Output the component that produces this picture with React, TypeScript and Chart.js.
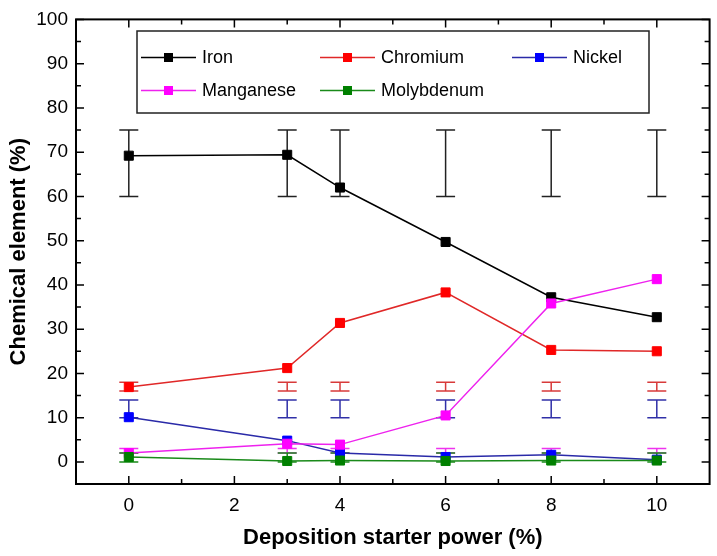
import React, { useEffect, useRef } from 'react';
import { Chart, registerables } from 'chart.js';

Chart.register(...registerables);

// ---- data ----
const xValues = [0, 3, 4, 6, 8, 10];
const iron = [69.2, 69.4, 62.0, 49.7, 37.2, 32.7];
const chromium = [16.9, 21.2, 31.4, 38.3, 25.3, 25.0];
const nickel = [10.1, 4.8, 2.0, 1.1, 1.6, 0.5];
const manganese = [2.0, 4.1, 3.9, 10.5, 35.8, 41.3];
const molybdenum = [1.1, 0.2, 0.3, 0.2, 0.3, 0.3];

const ironErrLow = [60, 60, 60, 60, 60, 60];
const ironErrHigh = [75, 75, 75, 75, 75, 75];
const chromiumErrLow = [16, 16, 16, 16, 16, 16];
const chromiumErrHigh = [18, 18, 18, 18, 18, 18];
const nickelErrLow = [10, 10, 10, 10, 10, 10];
const nickelErrHigh = [14, 14, 14, 14, 14, 14];
const manganeseErrLow = [2, 2, 2, 2, 2, 2];
const manganeseErrHigh = [3, 3, 3, 3, 3, 3];
const molybdenumErrLow = [0, 0, 0, 0, 0, 0];
const molybdenumErrHigh = [2, 2, 2, 2, 2, 2];

const seriesNames = ['Iron', 'Chromium', 'Nickel', 'Manganese', 'Molybdenum'];
const xTickValues = [0, 2, 4, 6, 8, 10];
const xMinorTicks = [1, 3, 5, 7, 9];
const yTickValues = [0, 10, 20, 30, 40, 50, 60, 70, 80, 90, 100];
const yMinorTicks = [5, 15, 25, 35, 45, 55, 65, 75, 85, 95];

const FONT = '"Liberation Sans", Arial, sans-serif';

const errorBarPlugin = {
  id: 'errorBars',
  beforeDatasetsDraw(chart: any) {
    const ctx = chart.ctx;
    const xs = chart.scales.x;
    const ys = chart.scales.y;
    chart.data.datasets.forEach((ds: any) => {
      ctx.save();
      ctx.strokeStyle = ds.errColor;
      ctx.lineWidth = 1.5;
      xValues.forEach((xv, j) => {
        const px = xs.getPixelForValue(xv);
        const lo = ys.getPixelForValue(ds.errLow[j]);
        const hi = ys.getPixelForValue(ds.errHigh[j]);
        const cap = 9.5;
        ctx.beginPath();
        ctx.moveTo(px, lo);
        ctx.lineTo(px, hi);
        ctx.moveTo(px - cap, lo);
        ctx.lineTo(px + cap, lo);
        ctx.moveTo(px - cap, hi);
        ctx.lineTo(px + cap, hi);
        ctx.stroke();
      });
      ctx.restore();
    });
  },
};

const framePlugin = {
  id: 'frame',
  afterDraw(chart: any) {
    const ctx = chart.ctx;
    const { left, right, top, bottom } = chart.chartArea;
    const xs = chart.scales.x;
    const ys = chart.scales.y;
    ctx.save();
    ctx.strokeStyle = '#000';
    ctx.lineWidth = 2;
    ctx.strokeRect(left, top, right - left, bottom - top);
    ctx.lineWidth = 1.5;
    const major = 8;
    const minor = 5;
    ctx.beginPath();
    xTickValues.forEach((v) => {
      const p = xs.getPixelForValue(v);
      ctx.moveTo(p, bottom); ctx.lineTo(p, bottom - major);
      ctx.moveTo(p, top); ctx.lineTo(p, top + major);
    });
    xMinorTicks.forEach((v) => {
      const p = xs.getPixelForValue(v);
      ctx.moveTo(p, bottom); ctx.lineTo(p, bottom - minor);
      ctx.moveTo(p, top); ctx.lineTo(p, top + minor);
    });
    yTickValues.forEach((v) => {
      const p = ys.getPixelForValue(v);
      ctx.moveTo(left, p); ctx.lineTo(left + major, p);
      ctx.moveTo(right, p); ctx.lineTo(right - major, p);
    });
    yMinorTicks.forEach((v) => {
      const p = ys.getPixelForValue(v);
      ctx.moveTo(left, p); ctx.lineTo(left + minor, p);
      ctx.moveTo(right, p); ctx.lineTo(right - minor, p);
    });
    ctx.stroke();
    ctx.restore();
  },
};

const legendPlugin = {
  id: 'boxLegend',
  afterDraw(chart: any) {
    const ctx = chart.ctx;
    ctx.save();
    ctx.strokeStyle = '#222';
    ctx.lineWidth = 1.5;
    ctx.strokeRect(137, 31, 512, 82);
    const colX = [141, 320, 512];
    const rowY = [57.5, 90.5];
    ctx.font = '18px ' + FONT;
    ctx.textBaseline = 'middle';
    ctx.textAlign = 'left';
    chart.data.datasets.forEach((ds: any, i: number) => {
      const cx = colX[i % 3];
      const cy = rowY[Math.floor(i / 3)];
      ctx.strokeStyle = ds.borderColor;
      ctx.lineWidth = 1.5;
      ctx.beginPath();
      ctx.moveTo(cx, cy);
      ctx.lineTo(cx + 55, cy);
      ctx.stroke();
      ctx.fillStyle = ds.pointBackgroundColor;
      ctx.fillRect(cx + 27.5 - 4.5, cy - 4.5, 9, 9);
      ctx.fillStyle = '#000';
      ctx.fillText(ds.label, cx + 61, cy + 1);
    });
    ctx.restore();
  },
};

function makeDs(label: string, values: number[], line: string, marker: string, errColor: string, errLow: number[], errHigh: number[], order: number) {
  return {
    label,
    data: xValues.map((x, i) => ({ x, y: values[i] })),
    borderColor: line,
    backgroundColor: marker,
    pointBackgroundColor: marker,
    pointBorderColor: marker,
    pointBorderWidth: 1,
    pointStyle: 'rect',
    pointRadius: 6.4,
    borderWidth: 1.5,
    tension: 0,
    order,
    errColor,
    errLow,
    errHigh,
  };
}

export default function App() {
  const ref = useRef<HTMLCanvasElement | null>(null);
  useEffect(() => {
    if (!ref.current) return;
    const chart = new Chart(ref.current, {
      type: 'line',
      data: {
        datasets: [
          makeDs(seriesNames[0], iron, '#000000', '#000000', '#222222', ironErrLow, ironErrHigh, 5),
          makeDs(seriesNames[1], chromium, '#e02828', '#ff0000', '#d83a3a', chromiumErrLow, chromiumErrHigh, 4),
          makeDs(seriesNames[2], nickel, '#2a2aa8', '#0000ff', '#3030a8', nickelErrLow, nickelErrHigh, 3),
          makeDs(seriesNames[3], manganese, '#ee22ee', '#ff00ff', '#ee33ee', manganeseErrLow, manganeseErrHigh, 2),
          makeDs(seriesNames[4], molybdenum, '#1a8a1a', '#008000', '#1a8a1a', molybdenumErrLow, molybdenumErrHigh, 1),
        ] as any,
      },
      options: {
        responsive: false,
        animation: false,
        layout: { padding: { top: 16, right: 7, left: 0, bottom: 0 } },
        plugins: { legend: { display: false }, tooltip: { enabled: false } },
        scales: {
          x: {
            type: 'linear',
            min: -1,
            max: 11,
            afterBuildTicks: (s: any) => { s.ticks = xTickValues.map((v) => ({ value: v })); },
            afterFit: (s: any) => { s.height = 72; },
            grid: { display: false, drawTicks: false },
            border: { display: false },
            ticks: { font: { family: FONT, size: 19 }, color: '#000', padding: 10, maxRotation: 0, autoSkip: false },
            title: { display: true, text: 'Deposition starter power (%)', font: { family: FONT, size: 22, weight: 'bold' }, color: '#000', padding: { top: 0, bottom: 5 } },
          },
          y: {
            type: 'linear',
            min: -5,
            max: 100,
            afterBuildTicks: (s: any) => { s.ticks = yTickValues.map((v) => ({ value: v })); },
            afterFit: (s: any) => { s.width = 76; },
            grid: { display: false, drawTicks: false },
            border: { display: false },
            ticks: { font: { family: FONT, size: 19 }, color: '#000', padding: 8, autoSkip: false },
            title: { display: true, text: 'Chemical element (%)', font: { family: FONT, size: 22, weight: 'bold' }, color: '#000', padding: { top: 6, bottom: 0 } },
          },
        },
      } as any,
      plugins: [errorBarPlugin, framePlugin, legendPlugin],
    });
    return () => chart.destroy();
  }, []);
  return (
    <div style={{ position: 'absolute', left: 0, top: 0, width: 717, height: 556, background: '#fff' }}>
      <canvas ref={ref} width={717} height={556} style={{ width: 717, height: 556 }} />
    </div>
  );
}
